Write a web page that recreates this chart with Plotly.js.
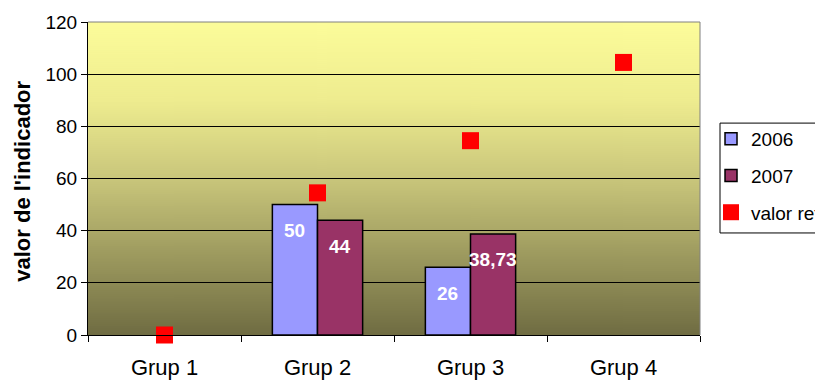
<!DOCTYPE html>
<html>
<head>
<meta charset="utf-8">
<script src="https://cdn.plot.ly/plotly-3.0.1.min.js"></script>
<style>
html,body{margin:0;padding:0;background:#fff;}
#chart{width:815px;height:383px;}
</style>
</head>
<body>
<div id="chart"></div>
<script>
const categories = ["Grup 1", "Grup 2", "Grup 3", "Grup 4"];
const values2006 = [null, 50, 26, null];
const values2007 = [null, 44, 38.73, null];
const valorRef = [0, 54.5, 74.5, 104.5];
const yTicks = [0, 20, 40, 60, 80, 100, 120];
const yTitle = "valor de l'indicador";

function fmt(v){ return v == null ? "" : String(v).replace(".", ","); }

// background gradient for plot area
const cv = document.createElement("canvas");
cv.width = 4; cv.height = 313;
const ctx = cv.getContext("2d");
const g = ctx.createLinearGradient(0, 0, 0, 313);
g.addColorStop(0, "#FCFC9A");
g.addColorStop(0.25, "#EEEC8F");
g.addColorStop(0.5, "#C9C67B");
g.addColorStop(0.75, "#9C995E");
g.addColorStop(1, "#6F6C42");
ctx.fillStyle = g;
ctx.fillRect(0, 0, 4, 313);
const bgURL = cv.toDataURL("image/png");

const font = "Liberation Sans, Arial, sans-serif";
const bargap = 0.41;
const half = (1 - bargap) / 4;

const traces = [
  {
    type: "bar", name: "2006", x: categories, y: values2006,
    marker: {color: "#9999FF", line: {color: "#000000", width: 1.5}},
    legendgroup: "a", hoverinfo: "skip"
  },
  {
    type: "bar", name: "2007", x: categories, y: values2007,
    marker: {color: "#993366", line: {color: "#000000", width: 1.5}},
    legendgroup: "b", hoverinfo: "skip"
  },
  {
    type: "scatter", mode: "markers", name: "valor ref", x: categories, y: valorRef,
    marker: {symbol: "square", size: 17, color: "#FF0000"},
    cliponaxis: false, legendgroup: "c", hoverinfo: "skip"
  }
];

const annotations = [];
[[values2006, -half], [values2007, half]].forEach(([vals, off]) => {
  vals.forEach((v, i) => {
    if (v == null) return;
    annotations.push({
      xref: "x", yref: "y", x: i + off, y: v, yshift: -26,
      text: fmt(v), showarrow: false,
      font: {family: font, size: 19, color: "#ffffff", weight: "bold"}
    });
  });
});
annotations.push({
  xref: "paper", yref: "paper", x: -0.106, y: 0.49, textangle: -90,
  text: yTitle, showarrow: false, xanchor: "center", yanchor: "middle",
  font: {family: font, size: 22, color: "#000000", weight: "bold"}
});

const layout = {
  width: 815, height: 383,
  margin: {l: 88, r: 115, t: 22, b: 48, autoexpand: false},
  paper_bgcolor: "#ffffff",
  plot_bgcolor: "rgba(0,0,0,0)",
  font: {family: font, size: 18, color: "#000000"},
  showlegend: true,
  barmode: "group",
  bargap: bargap,
  bargroupgap: 0,
  images: [{
    source: bgURL, xref: "paper", yref: "paper", x: 0, y: 1,
    sizex: 1, sizey: 1, sizing: "stretch", layer: "below",
    xanchor: "left", yanchor: "top"
  }],
  annotations: annotations,
  xaxis: {
    type: "category", categoryarray: categories,
    tickson: "boundaries", ticks: "outside", ticklen: 6, tickcolor: "#000",
    showline: true, linecolor: "#000", linewidth: 1,
    showgrid: false, ticklabelstandoff: 13,
    tickfont: {family: font, size: 22}
  },
  yaxis: {
    range: [0, 120], tickvals: yTicks, ticks: "outside", ticklen: 6, tickcolor: "#000",
    showline: true, linecolor: "#000", linewidth: 1,
    showgrid: true, gridcolor: "#000", gridwidth: 1,
    zeroline: false,
    tickfont: {family: font, size: 19}
  },
  legend: {
    x: 1.018, xanchor: "left", y: 0.687, yanchor: "top",
    borderwidth: 0, bgcolor: "rgba(0,0,0,0)",
    font: {family: font, size: 19}, traceorder: "grouped", tracegroupgap: 9,
    itemwidth: 30
  },
  shapes: [
    {type: "line", xref: "paper", yref: "paper", x0: 0, x1: 1, y0: 1, y1: 1, line: {color: "#808080", width: 1}},
    {type: "line", xref: "paper", yref: "paper", x0: 1, x1: 1, y0: 0, y1: 1, line: {color: "#808080", width: 1}},
    {type: "rect", xref: "paper", yref: "paper", x0: 1.0327, x1: 1.25, y0: 0.326, y1: 0.677,
     line: {color: "#000000", width: 1}, fillcolor: "rgba(0,0,0,0)", layer: "above"}
  ]
};

Plotly.newPlot("chart", traces, layout, {displayModeBar: false, staticPlot: true});
</script>
</body>
</html>
